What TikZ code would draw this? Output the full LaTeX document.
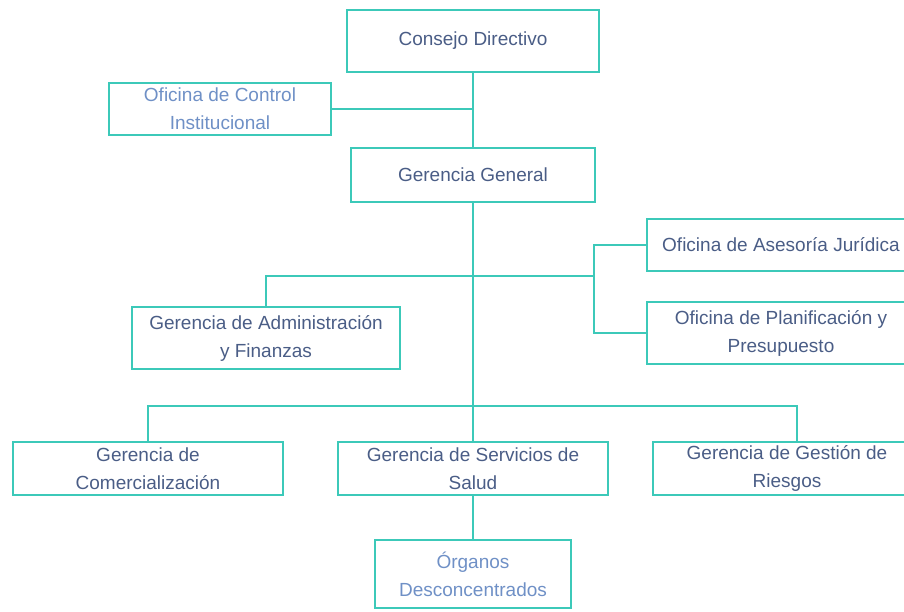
\documentclass[tikz,border=0pt]{standalone}
\usepackage{fontspec}
\setmainfont{Liberation Sans}
\definecolor{turquesa}{HTML}{3CC9B9}
\definecolor{textoosc}{HTML}{4A5D86}
\definecolor{textoclaro}{HTML}{6F90C6}
\tikzset{
    caja/.style={draw=turquesa, line width=1.6pt, text=textoosc, align=center,
        inner sep=0pt, font=\fontsize{19}{28}\selectfont},
    claro/.style={text=textoclaro},
    linea/.style={draw=turquesa, line width=1.4pt}
}
\begin{document}
\begin{tikzpicture}[x=1pt, y=-1pt]

    % Marco de la imagen (las cajas de la derecha quedan cortadas)
    \useasboundingbox (0,0) rectangle (904,611);
    \clip (0,0) rectangle (904,611);

    % Nivel superior
    \node[caja, minimum width=252pt, minimum height=62pt] (cd) at (473,41) {Consejo Directivo};
    \node[caja, claro, minimum width=222pt, minimum height=52pt] (oci) at (220,109) {Oficina de Control\\Institucional};
    \node[caja, minimum width=244pt, minimum height=54pt] (gg) at (473,175) {Gerencia General};

    % Órganos de asesoría y apoyo
    \node[caja, minimum width=268pt, minimum height=52pt] (oaj) at (781,245) {Oficina de Asesoría Jurídica};
    \node[caja, minimum width=268pt, minimum height=62pt] (opp) at (781,333) {Oficina de Planificación y\\Presupuesto};
    \node[caja, minimum width=268pt, minimum height=62pt] (gaf) at (266,338) {Gerencia de Administración\\y Finanzas};

    % Órganos de línea
    \node[caja, minimum width=270pt, minimum height=53pt] (gc) at (148,468.5) {Gerencia de\\Comercialización};
    \node[caja, minimum width=270pt, minimum height=53pt] (gss) at (473,468.5) {Gerencia de Servicios de\\Salud};
    \node[caja, minimum width=268pt, minimum height=53pt] (ggr) at (787,468.5) {Gerencia de Gestión de\\Riesgos};
    \node[caja, claro, minimum width=196pt, minimum height=68pt] (od) at (473,574) {Órganos\\Desconcentrados};

    % Puntos de unión
    \coordinate (n1) at (594,276);
    \coordinate (n2) at (473,406);

    % Conectores
    \draw[linea] (cd.south) -- (gg.north);
    \draw[linea] (oci.east) -- (oci.east -| cd.south);
    \draw[linea] (gg.south) -- (gss.north);
    \draw[linea] (gaf.north) |- (n1);
    \draw[linea] (oaj.west) -| (n1);
    \draw[linea] (opp.west) -| (n1);
    \draw[linea] (gc.north) |- (n2) -| ([xshift=10pt]ggr.north);
    \draw[linea] (gss.south) -- (od.north);

\end{tikzpicture}
\end{document}
